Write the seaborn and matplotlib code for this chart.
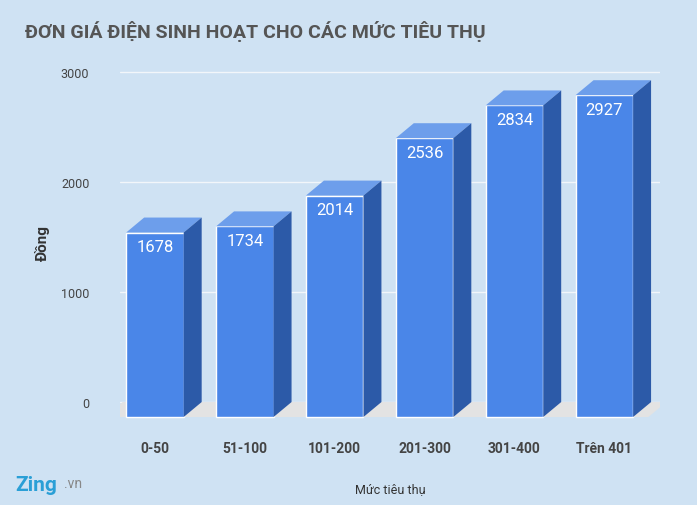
import matplotlib
matplotlib.use('Agg')
import matplotlib.pyplot as plt
from matplotlib.patches import Polygon
import pandas as pd
import seaborn as sns

categories = ['0-50', '51-100', '101-200', '201-300', '301-400', 'Trên 401']
prices = [1678, 1734, 2014, 2536, 2834, 2927]

BG = '#cfe2f3'
FRONT = '#4a86e8'
TOP = '#6d9eeb'
SIDE = '#2c5aa8'
DX, DY = 0.2, 136   # depth of the fake 3D effect (data units)

sns.set_theme(style='white')
plt.rcParams['font.family'] = ['Roboto', 'DejaVu Sans']

fig = plt.figure(figsize=(6.97, 5.06), dpi=100, facecolor=BG)
ax = fig.add_axes([0.172, 0.160, 0.775, 0.721], facecolor=BG)

df = pd.DataFrame({'cat': categories, 'price': prices})
sns.barplot(data=df, x='cat', y='price', color=FRONT, saturation=1,
            width=0.64, ax=ax, zorder=5)

ax.set_xlim(-0.39, 5.62)
ax.set_ylim(-200, 3118)

# floor
ax.add_patch(Polygon([(-0.56, -DY), (5.49, -DY), (5.49 + DX, 0), (-0.56 + DX, 0)],
                     closed=True, facecolor='#e3e3e3', edgecolor='none', zorder=2))

for p, h in zip(ax.patches[:len(prices)], prices):
    x0 = p.get_x()
    x1 = x0 + p.get_width()
    p.set_y(-DY)
    p.set_height(h)
    top = h - DY
    ax.add_patch(Polygon([(x0, top), (x1, top), (x1 + DX, h), (x0 + DX, h)],
                         closed=True, facecolor=TOP, edgecolor='none', zorder=5))
    ax.add_patch(Polygon([(x1, top), (x1 + DX, h), (x1 + DX, 0), (x1, -DY)],
                         closed=True, facecolor=SIDE, edgecolor='none', zorder=5))
    ax.text((x0 + x1) / 2, top - 60, f'{h}', ha='center', va='top',
            color='white', fontsize=12, zorder=6)

ax.set_yticks([0, 1000, 2000, 3000])
ax.yaxis.grid(True, color='#f2f6fa', linewidth=1)
ax.set_axisbelow(True)
for s in ax.spines.values():
    s.set_visible(False)
ax.tick_params(axis='y', labelsize=9, colors='#444444', pad=22, length=0)
ax.tick_params(axis='x', labelsize=10, colors='#444444', pad=12, length=0)
for t in ax.get_xticklabels():
    t.set_fontweight('bold')

ax.set_xlabel('Mức tiêu thụ', fontsize=9, color='#333333', labelpad=20)
ax.set_ylabel('Đồng', fontsize=11, fontweight='bold', color='#333333', labelpad=8)

fig.text(0.036, 0.925, 'ĐƠN GIÁ ĐIỆN SINH HOẠT CHO CÁC MỨC TIÊU THỤ',
         fontsize=14, fontweight='bold', color='#555555')
fig.text(0.022, 0.03, 'Zing', fontsize=15, fontweight='bold', color='#2a9fd6')
fig.text(0.092, 0.035, '.vn', fontsize=10, color='#888888')

fig.savefig('out.png', dpi=100, facecolor=BG)
